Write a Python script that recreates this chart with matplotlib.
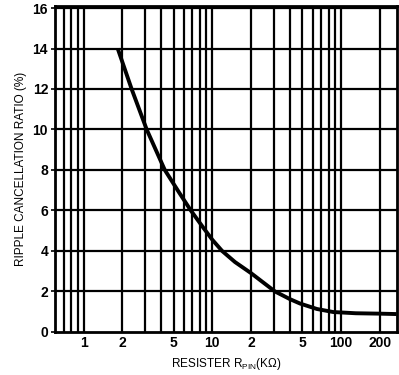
import matplotlib.pyplot as plt

plt.rcParams['font.family'] = ['Liberation Sans', 'DejaVu Sans']

# curve
resistance = [1.84, 2.36, 3.09, 4.27, 5.5, 6.8, 8.5, 10.0, 11.9, 15.0, 20.0, 30.6, 40.0, 48.0, 65.0, 87.0, 130.0, 200.0, 270.0]
ratio = [14.0, 12.0, 10.0, 8.0, 6.9, 6.0, 5.15, 4.55, 4.0, 3.45, 2.9, 2.0, 1.62, 1.4, 1.13, 0.98, 0.92, 0.9, 0.88]

grid_x = [0.7, 0.8, 0.9, 1, 2, 3, 4, 5, 6, 7, 8, 9, 10,
          20, 30, 40, 50, 60, 70, 80, 90, 100, 200]
grid_y = [2, 4, 6, 8, 10, 12, 14, 16]
tick_x = [1, 2, 5, 10, 20, 50, 100, 200]
tick_x_labels = ['1', '2', '5', '10', '2', '5', '100', '200']
tick_y = [0, 2, 4, 6, 8, 10, 12, 14, 16]

fig = plt.figure(figsize=(3.99, 3.75), dpi=100)
ax = fig.add_axes([0.138, 0.115, 0.857, 0.869])

for gx in grid_x:
    ax.axvline(gx, color='black', lw=1.6, zorder=1)
for gy in grid_y:
    ax.axhline(gy, color='black', lw=1.6, zorder=1)

ax.plot(resistance, ratio, color='black', lw=2.8, zorder=3,
        solid_joinstyle='round', solid_capstyle='butt')

ax.set_xscale('log')
ax.set_xlim(0.6, 272)
ax.set_ylim(0, 16.1)

ax.set_xticks(tick_x)
ax.set_xticklabels(tick_x_labels)
ax.xaxis.set_minor_locator(plt.NullLocator())
ax.set_yticks(tick_y)
ax.tick_params(axis='x', length=0, pad=3, labelsize=10)
ax.tick_params(axis='y', length=3, width=1.2, pad=2, labelsize=10)
for lab in ax.get_xticklabels() + ax.get_yticklabels():
    lab.set_fontweight('bold')

for s in ax.spines.values():
    s.set_linewidth(2)

ax.set_ylabel('RIPPLE CANCELLATION RATIO (%)', fontsize=8.5, labelpad=4)
ax.set_xlabel('RESISTER R$_{\\mathregular{PIN}}$(K\u03a9)', fontsize=8.5, labelpad=4)

fig.savefig('out.png', dpi=100)
